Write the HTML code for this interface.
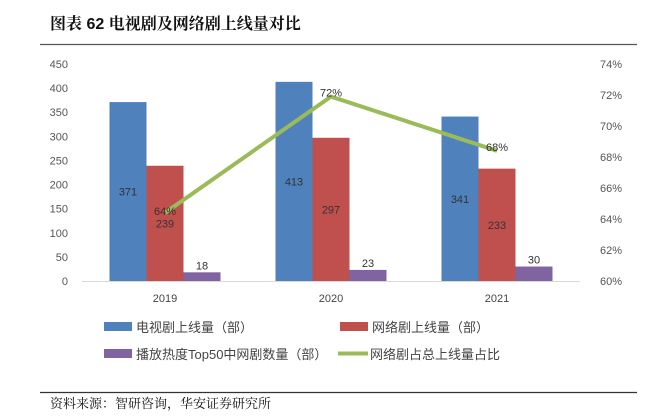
<!DOCTYPE html>
<html><head><meta charset="utf-8"><style>
body{margin:0;background:#fff;width:657px;height:413px;overflow:hidden;font-family:"Liberation Sans","Noto Sans CJK SC",sans-serif}
</style></head><body>
<svg width="657" height="413" xmlns="http://www.w3.org/2000/svg">
<text x="50" y="29" font-size="16" font-weight="bold" fill="#111" font-family="Liberation Sans,Noto Serif CJK SC,serif">图表 62 电视剧及网络剧上线量对比</text>
<line x1="40" y1="44.5" x2="637" y2="44.5" stroke="#555" stroke-width="1.2"/>
<g id="plot"></g>
<line x1="40" y1="392.5" x2="637" y2="392.5" stroke="#333" stroke-width="1.2"/>
<text x="50" y="408" font-size="13" fill="#111" font-family="Liberation Serif,Noto Serif CJK SC,serif">资料来源：智研咨询，华安证券研究所</text>
</svg>
<script>
const categories=["2019","2020","2021"];
const tvShows=[371,413,341];
const webShows=[239,297,233];
const top50Web=[18,23,30];
const webShare=[64.4,71.9,68.4];
const shareLabels=["64%","72%","68%"];
const leftTicks=[0,50,100,150,200,250,300,350,400,450];
const rightTicks=[60,62,64,66,68,70,72,74];

const NS="http://www.w3.org/2000/svg";
const g=document.getElementById('plot');
const x0=82,x1=580,yTop=64,yBot=281;
const yL=v=>yBot-(v/450)*(yBot-yTop);
const yR=v=>yBot-((v-60)/14)*(yBot-yTop);
const band=(x1-x0)/categories.length;
const cx=i=>x0+band*(i+0.5);
const bw=37;
function el(t,a,txt){const e=document.createElementNS(NS,t);for(const k in a)e.setAttribute(k,a[k]);if(txt!==undefined)e.textContent=txt;g.appendChild(e);return e;}

leftTicks.forEach(v=>{const t=el('text',{x:68,y:yL(v)+4,'font-size':11,fill:'#555','text-anchor':'end'},v);

});
rightTicks.forEach(v=>{const t=el('text',{x:600,y:yR(v)+4,'font-size':11,fill:'#555'},v+'%');

});
const ax=el('line',{x1:x0,y1:yBot+0.5,x2:x1,y2:yBot+0.5,stroke:'#d9d9d9','stroke-width':1});



const series=[[tvShows,'#4f81bd','tv-bar'],[webShows,'#c0504d','web-bar'],[top50Web,'#8064a2','top50-bar']];
categories.forEach((c,i)=>{
  series.forEach((s,j)=>{
    const v=s[0][i];const x=cx(i)-1.5*bw+j*bw;
    const r=el('rect',{x:x,y:yL(v),width:bw,height:yBot-yL(v),fill:s[1]});
    
    
    const ly=j==2?yL(v)-3:(yL(v)+yBot)/2+4;
    const t=el('text',{x:x+bw/2,y:ly,'font-size':11,fill:'#333','text-anchor':'middle'},v);
    
    
  });
  const t=el('text',{x:cx(i),y:yBot+21,'font-size':11,fill:'#444','text-anchor':'middle'},c);
  
  
});
const pts=webShare.map((v,i)=>cx(i)+','+yR(v)).join(' ');
const pl=el('polyline',{points:pts,fill:'none',stroke:'#9bbb59','stroke-width':4});


webShare.forEach((v,i)=>{const t=el('text',{x:cx(i),y:yR(v)+(i==0?2:0),'font-size':11,fill:'#333','text-anchor':'middle'},shareLabels[i]);

});

const leg=[[104,322,'#4f81bd','电视剧上线量（部）','rect'],[340,322,'#c0504d','网络剧上线量（部）','rect'],[104,349,'#8064a2','播放热度Top50中网剧数量（部）','rect'],[338,349,'#9bbb59','网络剧占总上线量占比','line']];
leg.forEach(l=>{
  let s;
  if(l[4]=='rect') s=el('rect',{x:l[0],y:l[1],width:28,height:9,fill:l[2]});
  else s=el('line',{x1:l[0],y1:l[1]+4.5,x2:l[0]+30,y2:l[1]+4.5,stroke:l[2],'stroke-width':4});
  
  
  const t=el('text',{x:l[0]+32,y:l[1]+10,'font-size':13,fill:'#444'},l[3]);
  
  
});
</script>
</body></html>
